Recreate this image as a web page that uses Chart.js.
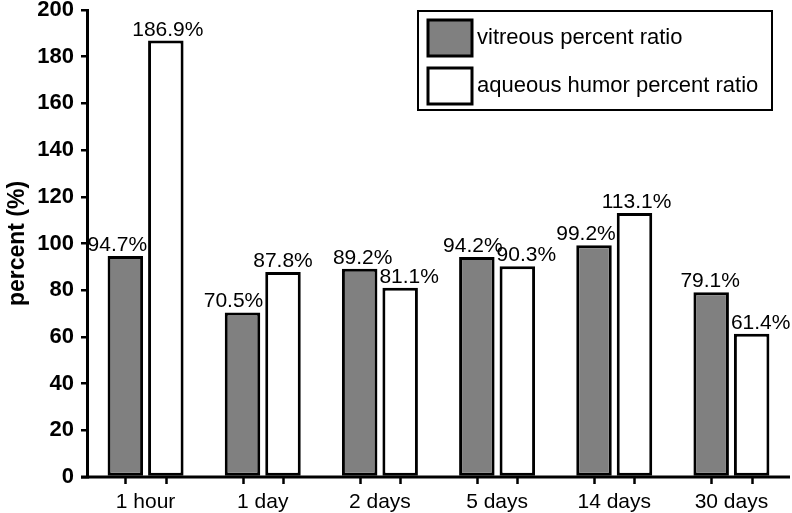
<!DOCTYPE html>
<html>
<head>
<meta charset="utf-8">
<script src="https://cdn.jsdelivr.net/npm/chart.js@4"></script>
<style>
html,body{margin:0;padding:0;background:#fff;}
#wrap{width:792px;height:513px;position:relative;}
</style>
</head>
<body>
<div id="wrap"><canvas id="c" width="792" height="513"></canvas></div>
<script>
const categories = ["1 hour", "1 day", "2 days", "5 days", "14 days", "30 days"];
const vitreous = [94.7, 70.5, 89.2, 94.2, 99.2, 79.1];
const aqueous = [186.9, 87.8, 81.1, 90.3, 113.1, 61.4];
const seriesNames = ["vitreous percent ratio", "aqueous humor percent ratio"];
const yTicks = [0, 20, 40, 60, 80, 100, 120, 140, 160, 180, 200];

// small horizontal nudges of value labels (style only)
const labelNudge = [[-8, -9, 3, -4, -8, -1], [2, 0, 9, 9, 2, 9]];

const FONT = "'Liberation Sans', Arial, Helvetica, sans-serif";

const extras = {
  id: 'extras',
  afterDatasetsDraw(chart) {
    const ctx = chart.ctx;
    const ys = chart.scales.y;
    const area = chart.chartArea;
    ctx.save();
    // value labels
    ctx.fillStyle = '#000';
    ctx.font = '21px ' + FONT;
    ctx.textAlign = 'center';
    ctx.textBaseline = 'alphabetic';
    chart.data.datasets.forEach((ds, di) => {
      const meta = chart.getDatasetMeta(di);
      meta.data.forEach((bar, i) => {
        ctx.fillText(ds.data[i].toFixed(1) + '%', bar.x + labelNudge[di][i], bar.y - 5);
      });
    });
    // x tick marks at bar centers
    ctx.strokeStyle = '#000';
    ctx.lineWidth = 2.5;
    const y0 = ys.getPixelForValue(0);
    chart.data.datasets.forEach((ds, di) => {
      chart.getDatasetMeta(di).data.forEach(bar => {
        ctx.beginPath();
        ctx.moveTo(Math.round(bar.x) + 0.5, y0);
        ctx.lineTo(Math.round(bar.x) + 0.5, y0 + 7);
        ctx.stroke();
      });
    });
    // x axis extends slightly left of y axis
    ctx.lineWidth = 3;
    ctx.beginPath();
    ctx.moveTo(area.left - 6, y0);
    ctx.lineTo(area.right, y0);
    ctx.stroke();
    // legend box
    const bx = 418, by = 11, bw = 354, bh = 99;
    ctx.fillStyle = '#fff';
    ctx.fillRect(bx, by, bw, bh);
    ctx.lineWidth = 2;
    ctx.strokeStyle = '#000';
    ctx.strokeRect(bx, by, bw, bh);
    ctx.font = '22px ' + FONT;
    ctx.textAlign = 'left';
    ctx.textBaseline = 'middle';
    chart.data.datasets.forEach((ds, di) => {
      const sy = 20 + di * 48;
      ctx.fillStyle = ds.backgroundColor;
      ctx.fillRect(428, sy, 44, 36);
      ctx.lineWidth = 3;
      ctx.strokeStyle = '#000';
      ctx.strokeRect(428, sy, 44, 36);
      ctx.fillStyle = '#000';
      ctx.fillText(ds.label, 477, sy + 18);
    });
    ctx.restore();
  }
};

new Chart(document.getElementById('c'), {
  type: 'bar',
  data: {
    labels: categories,
    datasets: [
      { label: seriesNames[0], data: vitreous, backgroundColor: '#808080', borderColor: '#000', borderWidth: 3, borderSkipped: false },
      { label: seriesNames[1], data: aqueous, backgroundColor: '#ffffff', borderColor: '#000', borderWidth: 3, borderSkipped: false }
    ]
  },
  options: {
    responsive: false,
    animation: false,
    devicePixelRatio: 1,
    layout: { padding: { top: 10, right: 2, left: 4, bottom: 0 } },
    datasets: { bar: { categoryPercentage: 0.691, barPercentage: 0.877 } },
    plugins: { legend: { display: false }, tooltip: { enabled: false } },
    scales: {
      x: {
        grid: { display: false, drawTicks: false },
        border: { display: false },
        ticks: { color: '#000', font: { family: FONT, size: 21 }, padding: 13, maxRotation: 0 },
        afterFit(s) { s.height = 36; s.paddingLeft = 0; s.paddingRight = 0; }
      },
      y: {
        min: 0, max: 200,
        afterBuildTicks(s) { s.ticks = yTicks.map(v => ({ value: v })); },
        grid: { drawOnChartArea: false, color: '#000', lineWidth: 2.5, tickLength: 6 },
        border: { display: true, color: '#000', width: 3 },
        ticks: { color: '#000', font: { family: FONT, size: 22, weight: 'bold' }, padding: 7 },
        title: { display: true, text: 'percent (%)', color: '#000', font: { family: FONT, size: 23, weight: 'bold' }, padding: { top: 0, bottom: 2 } },
        afterFit(s) { s.width = 83; s.paddingTop = 0; s.paddingBottom = 0; }
      }
    }
  },
  plugins: [extras]
});
</script>
</body>
</html>
